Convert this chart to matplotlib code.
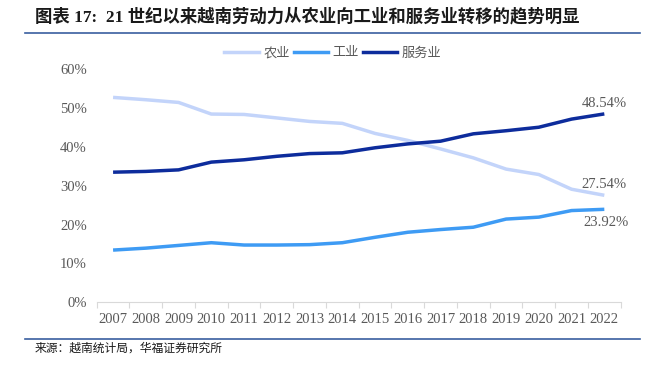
import matplotlib
matplotlib.use("Agg")
import matplotlib.pyplot as plt
from matplotlib.lines import Line2D

# Vietnam employment share by sector (%)
years = [str(y) for y in range(2007, 2023)]
agri = [52.8, 52.2, 51.5, 48.5, 48.4, 47.5, 46.6, 46.1, 43.5, 41.7, 39.5, 37.2, 34.3, 32.9, 29.1, 27.54]
indu = [13.4, 13.9, 14.6, 15.3, 14.7, 14.7, 14.8, 15.3, 16.7, 18.0, 18.7, 19.3, 21.4, 21.9, 23.6, 23.92]
serv = [33.5, 33.7, 34.1, 36.1, 36.7, 37.6, 38.3, 38.5, 39.8, 40.8, 41.5, 43.4, 44.2, 45.1, 47.2, 48.54]
names = ['农业', '工业', '服务业']
colors = ['#C3D4FA', '#3E9BF4', '#0D2C9C']
yticks = [0, 10, 20, 30, 40, 50, 60]

serif = ['Liberation Serif', 'Noto Sans CJK SC']
cjk = ['Noto Sans CJK SC', 'DejaVu Sans']
grey = '#595959'

W, H = 663, 365
fig = plt.figure(figsize=(W / 100, H / 100), dpi=100, facecolor='w')
ax = fig.add_axes([96.7 / W, 1 - 302 / H, 524 / W, (302 - 69.5) / H])

x = list(range(len(years)))
for vals, c in zip([agri, indu, serv], colors):
    ax.plot(x, vals, color=c, lw=2.5, solid_capstyle='butt')

ax.set_xlim(-0.5, len(years) - 0.5)
ax.set_ylim(0, 60)
ax.set_yticks(yticks)
ax.set_yticklabels([f'{v}%' for v in yticks], family=serif, fontsize=10.5, color=grey)
ax.set_xticks(x)
ax.set_xticklabels(years, family=serif, fontsize=10.5, color=grey)
ax.set_xticks([i - 0.5 for i in range(len(years) + 1)], minor=True)
ax.tick_params(axis='y', length=0, pad=7)
ax.tick_params(axis='x', which='major', length=0, pad=8)
ax.tick_params(axis='x', which='minor', length=4, color='#D9D9D9', width=0.8)
for s in ('top', 'right', 'left'):
    ax.spines[s].set_visible(False)
ax.spines['bottom'].set_color('#D9D9D9')
ax.spines['bottom'].set_linewidth(0.8)

# end labels
ax.annotate(f'{serv[-1]:.2f}%', (x[-1], serv[-1]), xytext=(0, 3), textcoords='offset points',
            ha='center', va='bottom', family=serif, fontsize=10.5, color=grey)
ax.annotate(f'{agri[-1]:.2f}%', (x[-1], agri[-1]), xytext=(0, 3), textcoords='offset points',
            ha='center', va='bottom', family=serif, fontsize=10.5, color=grey)
ax.annotate(f'{indu[-1]:.2f}%', (x[-1], indu[-1]), xytext=(1, -5), textcoords='offset points',
            ha='center', va='top', family=serif, fontsize=10.5, color=grey)

# legend
handles = [Line2D([], [], color=c, lw=2.5) for c in colors]
leg = fig.legend(handles, names, loc='center', bbox_to_anchor=(333 / W, 1 - 53 / H), ncol=3,
                 frameon=False, handlelength=2.6, handletextpad=0.35, columnspacing=0.3,
                 prop={'family': cjk, 'size': 9.5})
for t in leg.get_texts():
    t.set_color(grey)

# title and rules
fig.text(35 / W, 1 - 17 / H, '图表 17:  21 世纪以来越南劳动力从农业向工业和服务业转移的趋势明显',
         family=serif, fontsize=12.5, fontweight='bold', color='#1a1a1a', va='center', ha='left')
fig.add_artist(Line2D([25 / W, 640 / W], [1 - 33 / H, 1 - 33 / H], color='#3A5FA0', lw=1.2))
fig.add_artist(Line2D([25 / W, 640 / W], [1 - 339 / H, 1 - 339 / H], color='#3A5FA0', lw=1.2))
fig.text(35 / W, 1 - 348 / H, '来源：越南统计局，华福证券研究所', family=cjk, fontsize=8.5,
         color='#1a1a1a', va='center', ha='left')

fig.savefig('out.png', dpi=100, facecolor='w')
